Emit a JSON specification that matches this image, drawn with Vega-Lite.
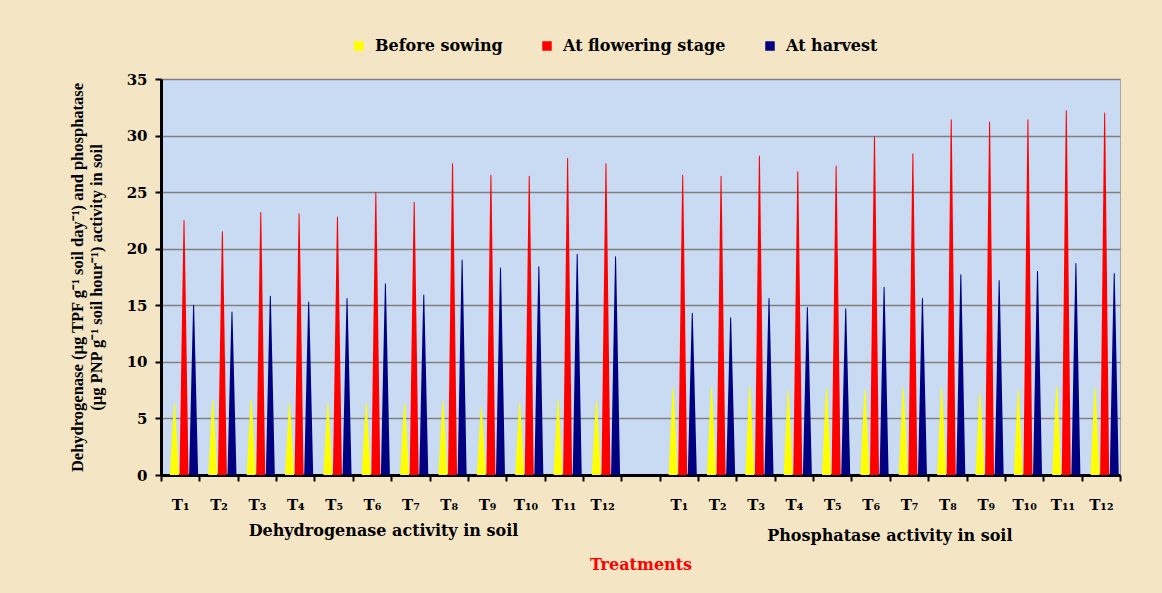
{
  "$schema": "https://vega.github.io/schema/vega-lite/v6.json",
  "autosize": {"type": "none"},
  "width": 959,
  "height": 396,
  "padding": {"left": 161, "top": 79, "right": 42, "bottom": 118},
  "background": "#F4E6C4",
  "config": {
    "view": {"fill": "#C8DBF3", "stroke": "#A8A8A8", "strokeWidth": 1},
    "font": "DejaVu Serif"
  },
  "datasets": {
    "bars": [
      {"slot": "D|T₁", "stage": "Before sowing", "value": 6.3},
      {"slot": "D|T₁", "stage": "At flowering stage", "value": 22.5},
      {"slot": "D|T₁", "stage": "At harvest", "value": 15.0},
      {"slot": "D|T₂", "stage": "Before sowing", "value": 6.6},
      {"slot": "D|T₂", "stage": "At flowering stage", "value": 21.5},
      {"slot": "D|T₂", "stage": "At harvest", "value": 14.4},
      {"slot": "D|T₃", "stage": "Before sowing", "value": 6.6},
      {"slot": "D|T₃", "stage": "At flowering stage", "value": 23.2},
      {"slot": "D|T₃", "stage": "At harvest", "value": 15.8},
      {"slot": "D|T₄", "stage": "Before sowing", "value": 6.3},
      {"slot": "D|T₄", "stage": "At flowering stage", "value": 23.1},
      {"slot": "D|T₄", "stage": "At harvest", "value": 15.3},
      {"slot": "D|T₅", "stage": "Before sowing", "value": 6.3},
      {"slot": "D|T₅", "stage": "At flowering stage", "value": 22.8},
      {"slot": "D|T₅", "stage": "At harvest", "value": 15.6},
      {"slot": "D|T₆", "stage": "Before sowing", "value": 6.3},
      {"slot": "D|T₆", "stage": "At flowering stage", "value": 25.0},
      {"slot": "D|T₆", "stage": "At harvest", "value": 16.9},
      {"slot": "D|T₇", "stage": "Before sowing", "value": 6.3},
      {"slot": "D|T₇", "stage": "At flowering stage", "value": 24.1},
      {"slot": "D|T₇", "stage": "At harvest", "value": 15.9},
      {"slot": "D|T₈", "stage": "Before sowing", "value": 6.5},
      {"slot": "D|T₈", "stage": "At flowering stage", "value": 27.5},
      {"slot": "D|T₈", "stage": "At harvest", "value": 19.0},
      {"slot": "D|T₉", "stage": "Before sowing", "value": 5.9},
      {"slot": "D|T₉", "stage": "At flowering stage", "value": 26.5},
      {"slot": "D|T₉", "stage": "At harvest", "value": 18.3},
      {"slot": "D|T₁₀", "stage": "Before sowing", "value": 6.3},
      {"slot": "D|T₁₀", "stage": "At flowering stage", "value": 26.4},
      {"slot": "D|T₁₀", "stage": "At harvest", "value": 18.4},
      {"slot": "D|T₁₁", "stage": "Before sowing", "value": 6.6},
      {"slot": "D|T₁₁", "stage": "At flowering stage", "value": 28.0},
      {"slot": "D|T₁₁", "stage": "At harvest", "value": 19.5},
      {"slot": "D|T₁₂", "stage": "Before sowing", "value": 6.5},
      {"slot": "D|T₁₂", "stage": "At flowering stage", "value": 27.5},
      {"slot": "D|T₁₂", "stage": "At harvest", "value": 19.3},
      {"slot": "P|T₁", "stage": "Before sowing", "value": 7.7},
      {"slot": "P|T₁", "stage": "At flowering stage", "value": 26.5},
      {"slot": "P|T₁", "stage": "At harvest", "value": 14.3},
      {"slot": "P|T₂", "stage": "Before sowing", "value": 7.7},
      {"slot": "P|T₂", "stage": "At flowering stage", "value": 26.4},
      {"slot": "P|T₂", "stage": "At harvest", "value": 13.9},
      {"slot": "P|T₃", "stage": "Before sowing", "value": 7.8},
      {"slot": "P|T₃", "stage": "At flowering stage", "value": 28.2},
      {"slot": "P|T₃", "stage": "At harvest", "value": 15.6},
      {"slot": "P|T₄", "stage": "Before sowing", "value": 7.4},
      {"slot": "P|T₄", "stage": "At flowering stage", "value": 26.8},
      {"slot": "P|T₄", "stage": "At harvest", "value": 14.8},
      {"slot": "P|T₅", "stage": "Before sowing", "value": 7.7},
      {"slot": "P|T₅", "stage": "At flowering stage", "value": 27.3},
      {"slot": "P|T₅", "stage": "At harvest", "value": 14.7},
      {"slot": "P|T₆", "stage": "Before sowing", "value": 7.5},
      {"slot": "P|T₆", "stage": "At flowering stage", "value": 29.9},
      {"slot": "P|T₆", "stage": "At harvest", "value": 16.6},
      {"slot": "P|T₇", "stage": "Before sowing", "value": 7.7},
      {"slot": "P|T₇", "stage": "At flowering stage", "value": 28.4},
      {"slot": "P|T₇", "stage": "At harvest", "value": 15.6},
      {"slot": "P|T₈", "stage": "Before sowing", "value": 7.7},
      {"slot": "P|T₈", "stage": "At flowering stage", "value": 31.4},
      {"slot": "P|T₈", "stage": "At harvest", "value": 17.7},
      {"slot": "P|T₉", "stage": "Before sowing", "value": 7.2},
      {"slot": "P|T₉", "stage": "At flowering stage", "value": 31.2},
      {"slot": "P|T₉", "stage": "At harvest", "value": 17.2},
      {"slot": "P|T₁₀", "stage": "Before sowing", "value": 7.5},
      {"slot": "P|T₁₀", "stage": "At flowering stage", "value": 31.4},
      {"slot": "P|T₁₀", "stage": "At harvest", "value": 18.0},
      {"slot": "P|T₁₁", "stage": "Before sowing", "value": 7.8},
      {"slot": "P|T₁₁", "stage": "At flowering stage", "value": 32.2},
      {"slot": "P|T₁₁", "stage": "At harvest", "value": 18.7},
      {"slot": "P|T₁₂", "stage": "Before sowing", "value": 7.7},
      {"slot": "P|T₁₂", "stage": "At flowering stage", "value": 32.0},
      {"slot": "P|T₁₂", "stage": "At harvest", "value": 17.8}
    ],
    "groups": [
      {"slot": "D|T₆", "label": "Dehydrogenase activity in soil"},
      {"slot": "P|T₆", "label": "Phosphatase activity in soil"}
    ]
  },
  "layer": [
    {
      "data": {"name": "bars"},
      "transform": [
        {"stack": "value", "groupby": ["slot", "stage"], "as": ["v0", "v1"]},
        {"fold": ["v0", "v1"], "as": ["end", "y"]}
      ],
      "mark": {"type": "trail", "clip": true},
      "encoding": {
        "x": {
          "field": "slot",
          "type": "nominal",
          "scale": {
            "domain": ["D|T₁", "D|T₂", "D|T₃", "D|T₄", "D|T₅", "D|T₆", "D|T₇", "D|T₈", "D|T₉", "D|T₁₀", "D|T₁₁", "D|T₁₂", "gap", "P|T₁", "P|T₂", "P|T₃", "P|T₄", "P|T₅", "P|T₆", "P|T₇", "P|T₈", "P|T₉", "P|T₁₀", "P|T₁₁", "P|T₁₂"],
            "paddingInner": 0,
            "paddingOuter": 0
          },
          "axis": {
            "title": "Treatments",
            "titleColor": "#FF0000",
            "titleFont": "DejaVu Serif",
            "titleFontSize": 16,
            "titleFontWeight": "bold",
            "titlePadding": 44,
            "labelExpr": "datum.value == 'gap' ? '' : split(datum.value, '|')[1]",
            "labelAngle": 0,
            "labelFont": "DejaVu Serif",
            "labelFontSize": 15,
            "labelFontWeight": "bold",
            "labelColor": "#000000",
            "labelPadding": 16,
            "domainColor": "#000000",
            "domainWidth": 3,
            "tickColor": "#000000",
            "tickWidth": 2,
            "tickSize": 6,
            "tickBand": "extent",
            "grid": false
          }
        },
        "xOffset": {
          "field": "stage",
          "type": "nominal",
          "scale": {
            "domain": ["Before sowing", "At flowering stage", "At harvest"],
            "paddingInner": 0,
            "paddingOuter": 1.0,
            "align": 0.7
          }
        },
        "y": {
          "field": "y",
          "type": "quantitative",
          "scale": {"domain": [0, 35], "nice": false},
          "axis": {
            "values": [0, 5, 10, 15, 20, 25, 30, 35],
            "title": ["Dehydrogenase (µg TPF g⁻¹ soil day⁻¹) and phosphatase", "(µg PNP g⁻¹ soil hour⁻¹) activity in soil"],
            "titleFont": "Liberation Serif",
            "titleFontSize": 16.5,
            "titleFontWeight": "bold",
            "titleColor": "#000000",
            "titlePadding": 22,
            "labelFont": "DejaVu Serif",
            "labelFontSize": 15,
            "labelFontWeight": "bold",
            "labelColor": "#000000",
            "labelPadding": 8,
            "domainColor": "#000000",
            "domainWidth": 3,
            "tickColor": "#000000",
            "tickWidth": 2,
            "tickSize": 6,
            "gridColor": "#808080",
            "gridWidth": 1.5,
            "gridOpacity": 1
          }
        },
        "size": {
          "field": "end",
          "type": "ordinal",
          "scale": {"domain": ["v0", "v1"], "range": [9, 0]},
          "legend": null
        },
        "color": {
          "field": "stage",
          "type": "nominal",
          "scale": {
            "domain": ["Before sowing", "At flowering stage", "At harvest"],
            "range": ["#FFFF00", "#FF0000", "#000080"]
          },
          "legend": {
            "title": null,
            "orient": "none",
            "direction": "horizontal",
            "legendX": 190,
            "legendY": -41,
            "symbolType": "square",
            "symbolSize": 90,
            "labelFont": "DejaVu Serif",
            "labelFontSize": 16,
            "labelFontWeight": "bold",
            "labelColor": "#000000",
            "labelOffset": 8,
            "labelLimit": 400,
            "columnPadding": 36,
            "encode": {
              "symbols": {
                "update": {
                  "fill": {"scale": "color", "field": "value"},
                  "fillOpacity": {"value": 1},
                  "opacity": {"value": 1},
                  "strokeWidth": {"value": 0},
                  "shape": {"value": "square"}
                }
              }
            }
          }
        },
        "detail": {"field": "slot"},
        "order": {"field": "end", "type": "ordinal"}
      }
    },
    {
      "data": {"name": "groups"},
      "transform": [{"filter": "datum.slot == 'D|T₆'"}],
      "mark": {"type": "text", "dy": 56, "font": "DejaVu Serif", "fontSize": 16, "fontWeight": "bold", "color": "#000000", "align": "center", "baseline": "middle"},
      "encoding": {
        "x": {"field": "slot", "type": "nominal", "bandPosition": 0.8},
        "y": {"datum": 0},
        "text": {"field": "label"}
      }
    },
    {
      "data": {"name": "groups"},
      "transform": [{"filter": "datum.slot == 'P|T₆'"}],
      "mark": {"type": "text", "dy": 61, "font": "DejaVu Serif", "fontSize": 16, "fontWeight": "bold", "color": "#000000", "align": "center", "baseline": "middle"},
      "encoding": {
        "x": {"field": "slot", "type": "nominal", "bandPosition": 1},
        "y": {"datum": 0},
        "text": {"field": "label"}
      }
    }
  ]
}
